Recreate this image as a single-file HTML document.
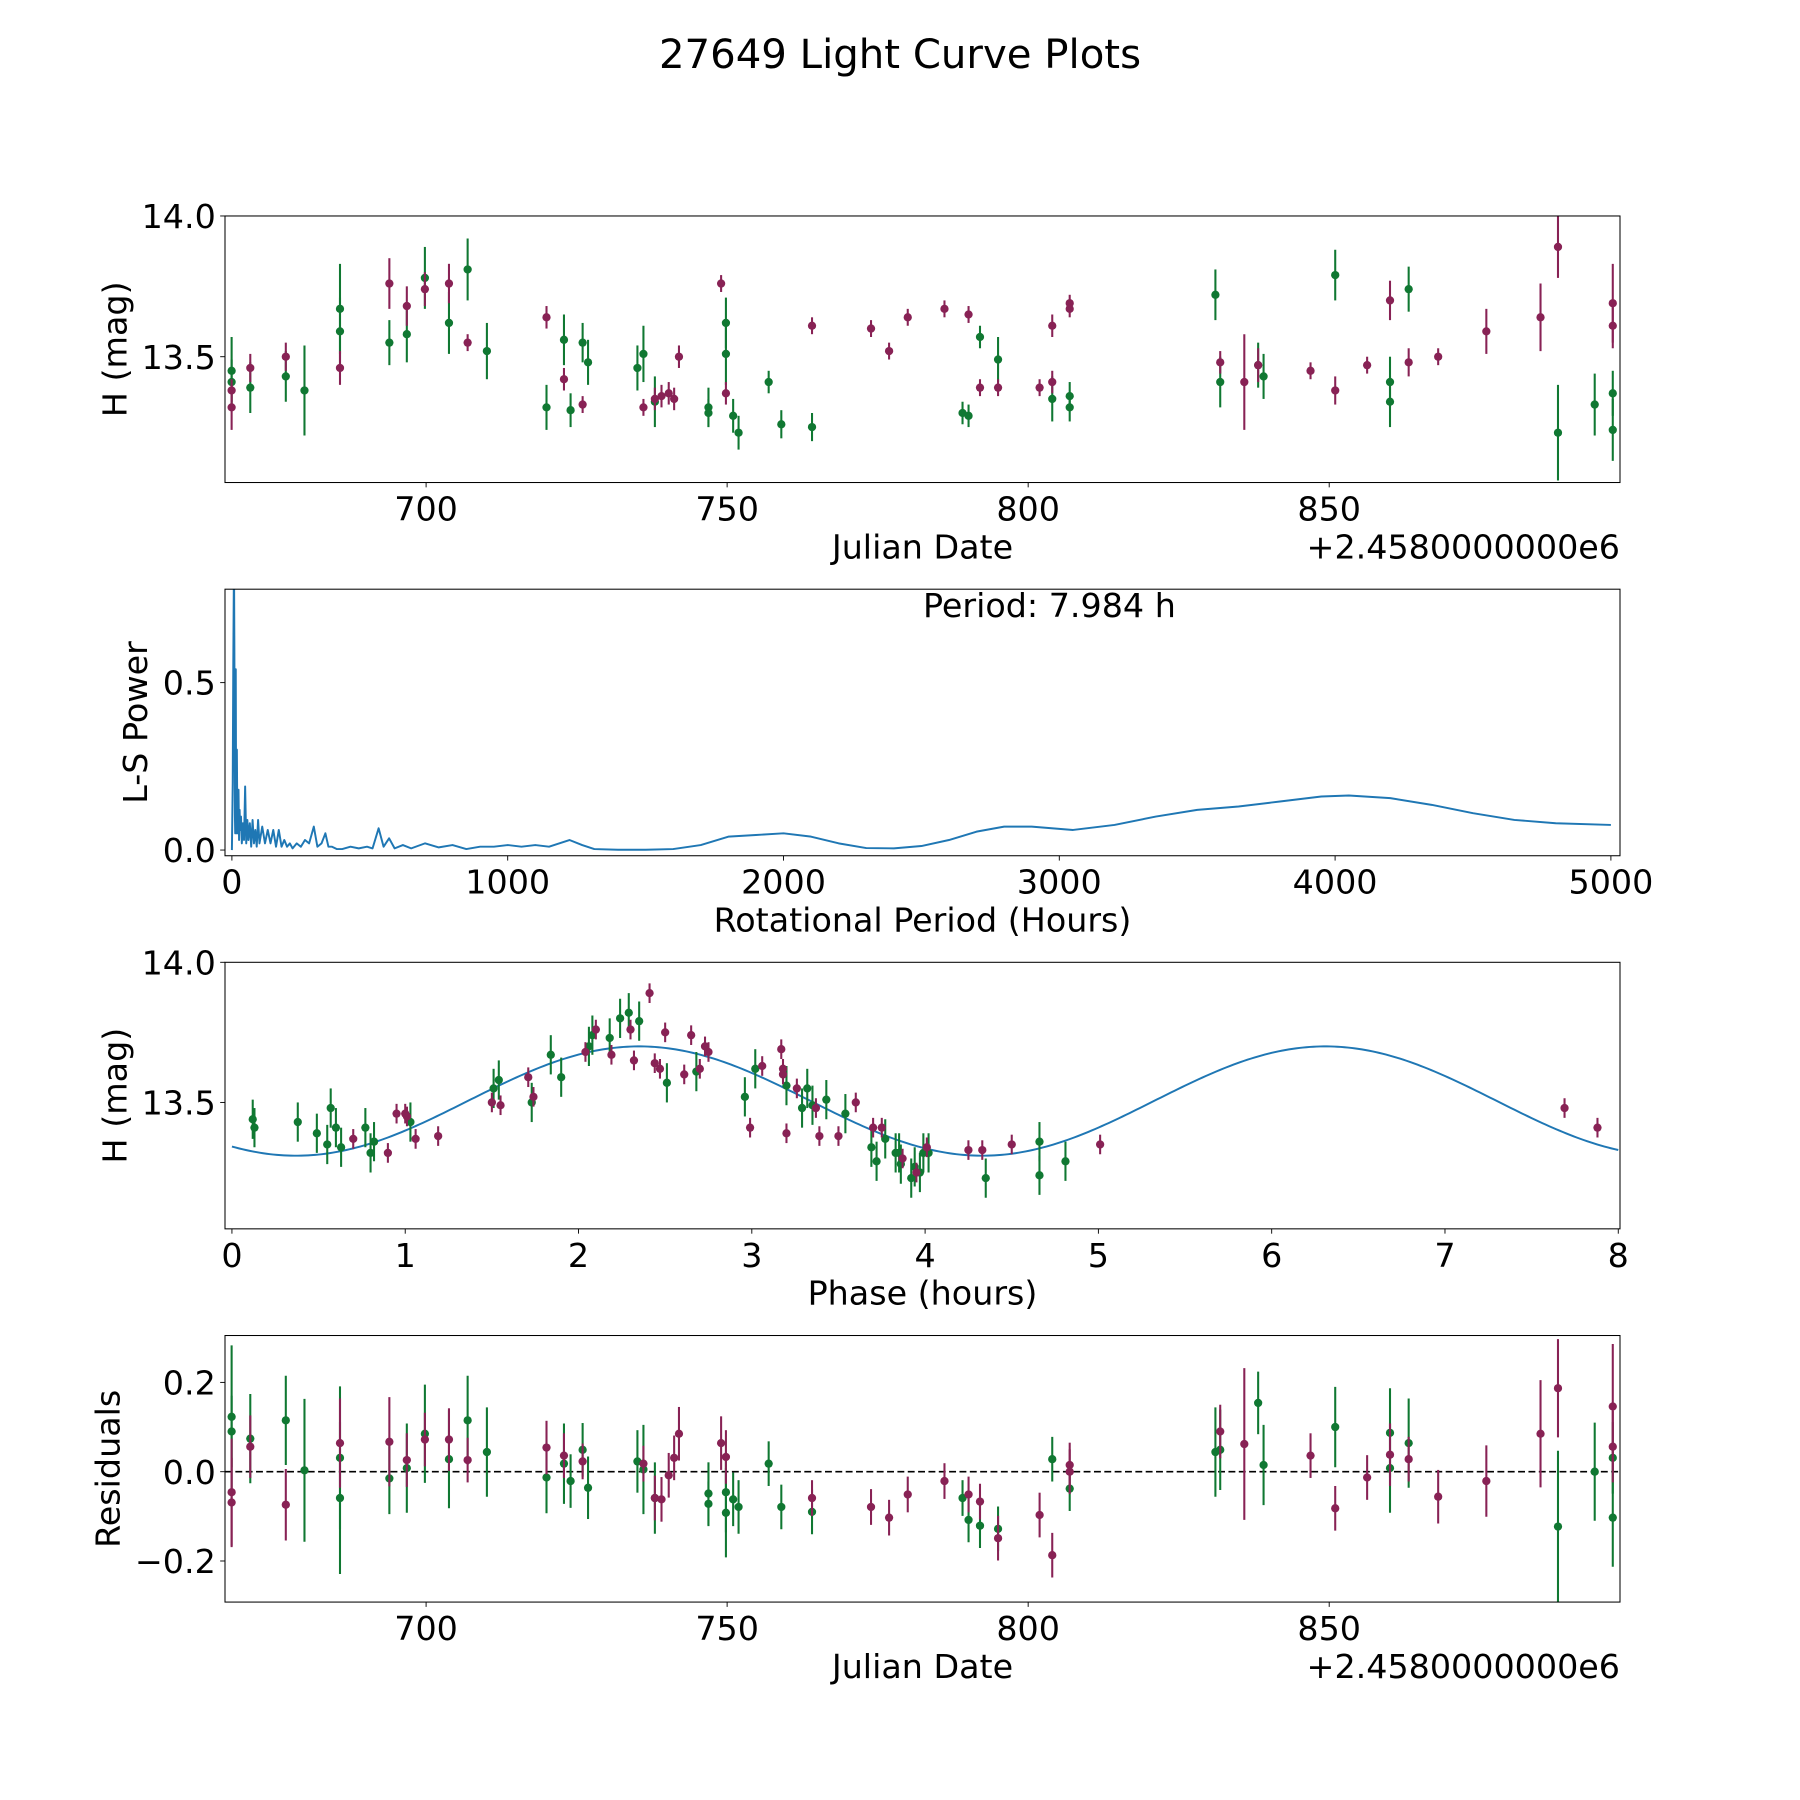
<!DOCTYPE html>
<html><head><meta charset="utf-8"><style>
html,body{margin:0;padding:0;background:#fff;}
svg{display:block;font-family:"DejaVu Sans","Liberation Sans",sans-serif;}
</style></head><body>
<svg id="fig" width="1800" height="1800" viewBox="0 0 1566 1566" xmlns="http://www.w3.org/2000/svg">
<rect width="1566" height="1566" fill="#fff"/>
<text x="783" y="59" font-size="35" text-anchor="middle">27649 Light Curve Plots</text>
</svg>
<script>
// ---------- Panel 1: light curve ----------
const lcGreenJD=[667.7,667.7,670.8,676.7,679.8,685.7,685.7,693.9,696.8,699.8,703.8,706.9,710.1,720.0,722.9,724.0,726.0,726.9,735.1,736.1,738.0,746.9,746.9,749.8,749.8,751.0,751.9,756.9,759.0,764.1,789.1,790.1,792.0,795.0,804.0,806.9,806.9,831.1,831.9,838.2,839.1,851.0,860.1,860.1,863.2,888.0,894.1,897.1,897.1];
const lcGreenMag=[13.45,13.41,13.39,13.43,13.38,13.67,13.59,13.55,13.58,13.78,13.62,13.81,13.52,13.32,13.56,13.31,13.55,13.48,13.46,13.51,13.34,13.32,13.30,13.62,13.51,13.29,13.23,13.41,13.26,13.25,13.30,13.29,13.57,13.49,13.35,13.36,13.32,13.72,13.41,13.47,13.43,13.79,13.41,13.34,13.74,13.23,13.33,13.37,13.24];
const lcGreenErr=[0.12,0.08,0.09,0.09,0.16,0.16,0.12,0.08,0.1,0.11,0.11,0.11,0.1,0.08,0.09,0.06,0.07,0.08,0.08,0.1,0.09,0.07,0.05,0.09,0.11,0.06,0.06,0.04,0.05,0.05,0.04,0.04,0.04,0.08,0.08,0.05,0.05,0.09,0.09,0.08,0.08,0.09,0.09,0.09,0.08,0.17,0.11,0.08,0.11];
const lcMagJD=[667.7,667.7,670.8,676.7,685.7,693.9,696.8,699.8,703.8,706.9,720.0,722.9,726.0,736.1,738.0,739.1,740.3,741.2,742.0,749.0,749.8,764.1,773.9,776.9,780.0,786.1,790.1,792.0,795.0,801.9,804.0,804.0,806.9,806.9,831.9,835.9,838.2,846.9,851.0,856.3,860.1,863.2,868.1,876.1,885.1,888.0,897.1,897.1];
const lcMagMag=[13.38,13.32,13.46,13.50,13.46,13.76,13.68,13.74,13.76,13.55,13.64,13.42,13.33,13.32,13.35,13.36,13.37,13.35,13.50,13.76,13.37,13.61,13.60,13.52,13.64,13.67,13.65,13.39,13.39,13.39,13.61,13.41,13.69,13.67,13.48,13.41,13.47,13.45,13.38,13.47,13.70,13.48,13.50,13.59,13.64,13.89,13.69,13.61];
const lcMagErr=[0.04,0.08,0.05,0.05,0.06,0.09,0.07,0.06,0.07,0.03,0.04,0.04,0.03,0.03,0.04,0.04,0.04,0.04,0.04,0.03,0.04,0.03,0.03,0.03,0.03,0.03,0.03,0.03,0.03,0.03,0.04,0.04,0.03,0.03,0.04,0.17,0.06,0.03,0.05,0.03,0.07,0.05,0.03,0.08,0.12,0.11,0.14,0.08];
// ---------- Panel 2: periodogram ----------
const lsPeriod=[0,3,5,7,8,9,10,11,12,13,14,15,16,18,20,22,24,26,28,30,33,36,40,44,48,52,56,60,65,70,75,80,85,90,95,100,110,120,130,140,150,160,170,180,190,200,210,220,235,250,265,280,297,310,325,339,350,363,380,400,430,460,490,510,532,550,570,590,620,650,700,750,800,850,900,950,1000,1050,1100,1150,1224,1270,1314,1400,1500,1600,1700,1800,1900,2000,2100,2200,2300,2400,2500,2600,2700,2800,2900,3050,3200,3350,3500,3650,3800,3950,4050,4200,4350,4500,4650,4800,5000];
const lsPower=[0,0.2,0.55,0.8,0.8,0.6,0.3,0.1,0.05,0.3,0.54,0.2,0.05,0.3,0.05,0.1,0.18,0.03,0.12,0.06,0.1,0.02,0.08,0.03,0.19,0.02,0.09,0.03,0.08,0.01,0.09,0.02,0.06,0.01,0.09,0.02,0.07,0.02,0.06,0.02,0.06,0.01,0.06,0.01,0.03,0.01,0.02,0.005,0.02,0.01,0.03,0.02,0.07,0.01,0.02,0.05,0.01,0.01,0.003,0.003,0.01,0.005,0.01,0.005,0.065,0.01,0.035,0.005,0.015,0.005,0.02,0.008,0.015,0.003,0.01,0.01,0.015,0.01,0.015,0.01,0.03,0.015,0.003,0.001,0.001,0.003,0.015,0.04,0.045,0.05,0.04,0.02,0.006,0.005,0.012,0.03,0.055,0.07,0.07,0.06,0.075,0.1,0.12,0.13,0.145,0.16,0.163,0.155,0.135,0.11,0.09,0.08,0.075];
const lsPeriodLabel="Period: 7.984 h";
// ---------- Panel 3: phased curve ----------
const phGreenP=[0.12,0.13,0.38,0.49,0.55,0.57,0.60,0.63,0.77,0.80,0.82,1.03,1.51,1.54,1.73,1.84,1.90,2.06,2.08,2.18,2.24,2.29,2.35,2.51,2.68,2.96,3.02,3.20,3.29,3.32,3.35,3.43,3.54,3.69,3.72,3.77,3.83,3.85,3.86,3.92,3.94,3.97,3.99,4.02,4.35,4.66,4.66,4.81];
const phGreenMag=[13.44,13.41,13.43,13.39,13.35,13.48,13.41,13.34,13.41,13.32,13.36,13.43,13.55,13.58,13.50,13.67,13.59,13.70,13.74,13.73,13.80,13.82,13.79,13.57,13.61,13.52,13.62,13.56,13.48,13.55,13.49,13.51,13.46,13.34,13.29,13.37,13.32,13.32,13.28,13.23,13.27,13.25,13.32,13.32,13.23,13.36,13.24,13.29];
const phMagP=[0.70,0.90,0.95,1.00,1.01,1.06,1.19,1.50,1.55,1.71,1.74,2.04,2.10,2.19,2.30,2.32,2.41,2.44,2.47,2.50,2.61,2.65,2.70,2.73,2.75,2.99,3.06,3.17,3.18,3.18,3.20,3.26,3.37,3.39,3.50,3.60,3.70,3.75,3.87,3.95,4.01,4.25,4.33,4.50,5.01,7.69,7.88];
const phMagMag=[13.37,13.32,13.46,13.46,13.45,13.37,13.38,13.50,13.49,13.59,13.52,13.68,13.76,13.67,13.76,13.65,13.89,13.64,13.62,13.75,13.60,13.74,13.62,13.70,13.68,13.41,13.63,13.69,13.62,13.60,13.39,13.55,13.48,13.38,13.38,13.50,13.41,13.41,13.30,13.25,13.34,13.33,13.33,13.35,13.35,13.48,13.41];
const fitParams=[13.505,0.195,3.96,2.35]; // offset, amplitude, period(h), peak phase
// ---------- Panel 4: residuals ----------
const resGreenJD=[667.7,667.7,670.8,676.7,679.8,685.7,685.7,693.9,696.8,699.8,703.8,706.9,710.1,720.0,722.9,724.0,726.0,726.9,735.1,736.1,738.0,746.9,746.9,749.8,749.8,751.0,751.9,756.9,759.0,764.1,789.1,790.1,792.0,795.0,804.0,806.9,831.1,831.9,838.2,839.1,851.0,860.1,860.1,863.2,888.0,894.1,897.1,897.1];
const resGreen=[0.123,0.090,0.074,0.115,0.003,0.031,-0.059,-0.015,0.008,0.085,0.028,0.115,0.044,-0.013,0.018,-0.021,0.049,-0.036,0.023,0.005,-0.059,-0.049,-0.072,-0.046,-0.092,-0.062,-0.079,0.018,-0.079,-0.090,-0.059,-0.108,-0.121,-0.128,0.028,-0.038,0.044,0.049,0.154,0.015,0.100,0.087,0.008,0.064,-0.123,0.0,0.031,-0.103];
const resMagJD=[667.7,667.7,670.8,676.7,685.7,693.9,696.8,699.8,703.8,706.9,720.0,722.9,726.0,736.1,738.0,739.1,740.3,741.2,742.0,749.0,749.8,764.1,773.9,776.9,780.0,786.1,790.1,792.0,795.0,801.9,804.0,806.9,806.9,831.9,835.9,846.9,851.0,856.3,860.1,863.2,868.1,876.1,885.1,888.0,897.1,897.1];
const resMag=[-0.046,-0.069,0.056,-0.074,0.064,0.067,0.026,0.072,0.072,0.026,0.054,0.036,0.023,0.018,-0.059,-0.062,-0.008,0.031,0.085,0.064,0.033,-0.059,-0.079,-0.103,-0.051,-0.021,-0.051,-0.067,-0.149,-0.097,-0.187,0.015,0.0,0.090,0.062,0.036,-0.082,-0.013,0.038,0.028,-0.056,-0.021,0.085,0.187,0.146,0.056];
const resGreenErr=[0.16,0.08,0.1,0.1,0.16,0.16,0.17,0.08,0.1,0.11,0.11,0.1,0.1,0.08,0.09,0.06,0.06,0.07,0.07,0.1,0.08,0.07,0.05,0.09,0.1,0.06,0.06,0.05,0.05,0.05,0.04,0.05,0.05,0.05,0.05,0.05,0.1,0.09,0.07,0.09,0.09,0.1,0.1,0.1,0.17,0.11,0.08,0.11];
const resMagErr=[0.12,0.1,0.07,0.08,0.1,0.1,0.06,0.06,0.07,0.05,0.06,0.05,0.04,0.04,0.05,0.05,0.05,0.05,0.06,0.06,0.06,0.04,0.04,0.04,0.04,0.04,0.04,0.04,0.05,0.05,0.05,0.05,0.05,0.06,0.17,0.05,0.05,0.05,0.07,0.05,0.06,0.08,0.12,0.11,0.14,0.08];

const NS="http://www.w3.org/2000/svg";
const svg=document.getElementById('fig');
const GREEN="#107832", MAG="#882255", BLUE="#1f77b4";
const FS=29;
function mk(tag,attrs,parent){const e=document.createElementNS(NS,tag);for(const k in attrs)e.setAttribute(k,attrs[k]);(parent||svg).appendChild(e);return e;}
const L=195.75,R=1409.4,H=231.9;
const tops=[187.9,512.6,837.2,1161.9];
function scale(d0,d1,r0,r1){return v=>r0+(v-d0)/(d1-d0)*(r1-r0);}

function axesFrame(i,name,xr,yr,xticks,yticks,xlab,ylab,ylabX,offset){
  const T=tops[i],B=T+H;
  const g=mk('g',{});
  
  
  const sx=scale(xr[0],xr[1],L,R), sy=scale(yr[0],yr[1],B,T);
  const clipId='clip'+i;
  const cp=mk('clipPath',{id:clipId},g);mk('rect',{x:L,y:T,width:R-L,height:H},cp);
  const plot=mk('g',{'clip-path':'url(#'+clipId+')'},g);
  
  
  xticks.forEach(t=>{const x=sx(t[0]);
    mk('line',{x1:x,x2:x,y1:B,y2:B+4.2,stroke:'#000','stroke-width':0.8},g);
    const tx=mk('text',{x:x,y:B+33,'font-size':FS,'text-anchor':'middle'},g);tx.textContent=t[1];
    
    });
  yticks.forEach(t=>{const y=sy(t[0]);
    mk('line',{x1:L-4.2,x2:L,y1:y,y2:y,stroke:'#000','stroke-width':0.8},g);
    const tx=mk('text',{x:L-8,y:y+10.5,'font-size':FS,'text-anchor':'end'},g);tx.textContent=t[1];
    
    });
  const xl=mk('text',{x:(L+R)/2,y:B+66,'font-size':FS,'text-anchor':'middle'},g);xl.textContent=xlab;
  
  
  const yc=(T+B)/2;
  const yl=mk('text',{x:ylabX,y:yc,'font-size':FS,'text-anchor':'middle',transform:'rotate(-90 '+ylabX+' '+yc+')'},g);yl.textContent=ylab;
  
  
  if(offset){const o=mk('text',{x:R,y:B+66,'font-size':FS,'text-anchor':'end'},g);o.textContent=offset;
    
    }
  return {g,plot,sx,sy,T,B,finish(){mk('rect',{x:L,y:T,width:R-L,height:H,fill:'none',stroke:'#000','stroke-width':0.9},g);}};
}
function points(ax,xs,ys,errs,color,defErr,name){
  xs.forEach((x,i)=>{const e=(errs&&errs[i]!=null)?errs[i]:defErr;
    const px=ax.sx(x),py=ax.sy(ys[i]);
    const ln=mk('line',{x1:px,x2:px,y1:ax.sy(ys[i]-e),y2:ax.sy(ys[i]+e),stroke:color,'stroke-width':1.8},ax.plot);
    
    
    const c=mk('circle',{cx:px,cy:py,r:3.6,fill:color},ax.plot);
    
    });
}
const jdX=[666.6,898.3];
const jdTicks=[[700,'700'],[750,'750'],[800,'800'],[850,'850']];
// Panel 1
const a1=axesFrame(0,'light-curve-panel',jdX,[13.053,14.0],jdTicks,[[13.5,'13.5'],[14.0,'14.0']],'Julian Date','H (mag)',110,'+2.4580000000e6');
points(a1,lcGreenJD,lcGreenMag,lcGreenErr,GREEN,0.07,'green-obs');
points(a1,lcMagJD,lcMagMag,lcMagErr,MAG,0.04,'magenta-obs');
a1.finish();
// Panel 2
const a2=axesFrame(1,'periodogram-panel',[-25,5033],[-0.017,0.779],[[0,'0'],[1000,'1000'],[2000,'2000'],[3000,'3000'],[4000,'4000'],[5000,'5000']],[[0,'0.0'],[0.5,'0.5']],'Rotational Period (Hours)','L-S Power',128,null);
let d='';lsPeriod.forEach((p,i)=>{d+=(i?'L':'M')+a2.sx(p).toFixed(2)+' '+a2.sy(lsPower[i]).toFixed(2);});
const pl=mk('path',{d:d,fill:'none',stroke:BLUE,'stroke-width':1.7,'stroke-linejoin':'round'},a2.plot);


const pt=mk('text',{x:913,y:537,'font-size':FS,'text-anchor':'middle'},a2.g);pt.textContent=lsPeriodLabel;


a2.finish();
// Panel 3
const a3=axesFrame(2,'phased-curve-panel',[-0.04,8.01],[13.049,14.0],[0,1,2,3,4,5,6,7,8].map(v=>[v,String(v)]),[[13.5,'13.5'],[14.0,'14.0']],'Phase (hours)','H (mag)',110,null);
let fd='';for(let k=0;k<=400;k++){const t=8*k/400;const m=fitParams[0]+fitParams[1]*Math.cos(2*Math.PI*(t-fitParams[3])/fitParams[2]);fd+=(k?'L':'M')+a3.sx(t).toFixed(2)+' '+a3.sy(m).toFixed(2);}
const fl=mk('path',{d:fd,fill:'none',stroke:BLUE,'stroke-width':1.7},a3.plot);


points(a3,phGreenP,phGreenMag,null,GREEN,0.07,'green-phased');
points(a3,phMagP,phMagMag,null,MAG,0.035,'magenta-phased');
a3.finish();
// Panel 4
const a4=axesFrame(3,'residuals-panel',jdX,[-0.292,0.305],jdTicks,[[-0.2,'\u22120.2'],[0,'0.0'],[0.2,'0.2']],'Julian Date','Residuals',104,'+2.4580000000e6');
const zl=mk('line',{x1:L,x2:R,y1:a4.sy(0),y2:a4.sy(0),stroke:'#000','stroke-width':1.5,'stroke-dasharray':'6,3'},a4.plot);


points(a4,resGreenJD,resGreen,resGreenErr,GREEN,0.07,'green-residual');
points(a4,resMagJD,resMag,resMagErr,MAG,0.05,'magenta-residual');
a4.finish();
</script>
</body></html>
